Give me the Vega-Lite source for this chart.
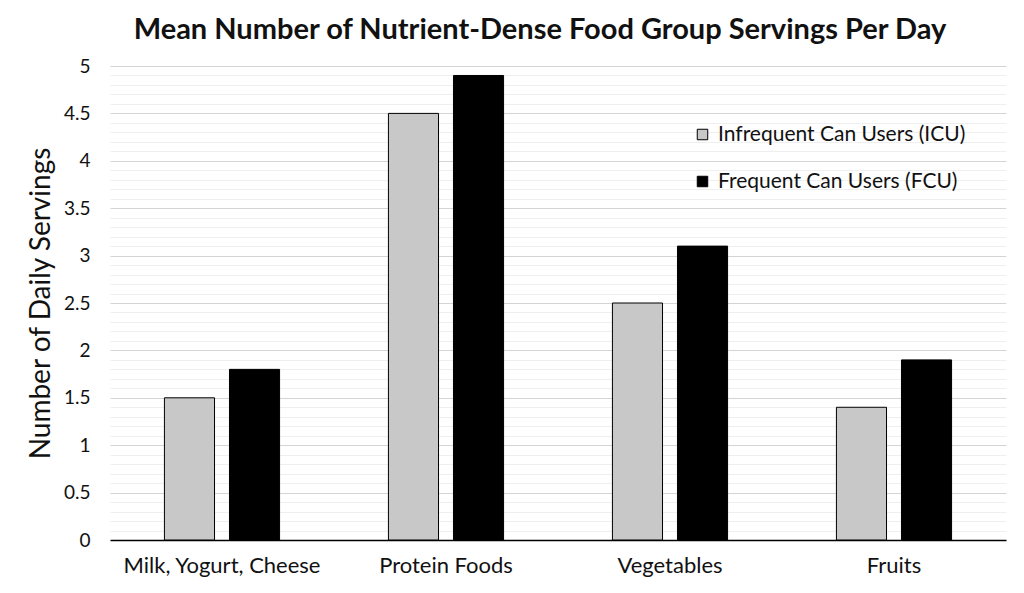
{
  "$schema": "https://vega.github.io/schema/vega-lite/v6.json",
  "width": 896,
  "height": 474,
  "autosize": {"type": "none"},
  "padding": {"left": 110, "top": 66, "right": 18, "bottom": 53},
  "background": "white",
  "title": {
    "text": "Mean Number of Nutrient-Dense Food Group Servings Per Day",
    "font": "Lato",
    "fontSize": 29,
    "fontWeight": "bold",
    "color": "#111111",
    "anchor": "middle",
    "offset": 12,
    "dx": -18
  },
  "data": {
    "values": [
      {"food": "Milk, Yogurt, Cheese", "group": "Infrequent Can Users (ICU)", "servings": 1.5},
      {"food": "Milk, Yogurt, Cheese", "group": "Frequent Can Users (FCU)", "servings": 1.8},
      {"food": "Protein Foods", "group": "Infrequent Can Users (ICU)", "servings": 4.5},
      {"food": "Protein Foods", "group": "Frequent Can Users (FCU)", "servings": 4.9},
      {"food": "Vegetables", "group": "Infrequent Can Users (ICU)", "servings": 2.5},
      {"food": "Vegetables", "group": "Frequent Can Users (FCU)", "servings": 3.1},
      {"food": "Fruits", "group": "Infrequent Can Users (ICU)", "servings": 1.4},
      {"food": "Fruits", "group": "Frequent Can Users (FCU)", "servings": 1.9}
    ]
  },
  "encoding": {
    "x": {
      "field": "food",
      "type": "nominal",
      "sort": null,
      "scale": {"paddingInner": 0.486, "paddingOuter": 0.243},
      "axis": {
        "title": null,
        "labelAngle": 0,
        "labelFont": "Lato",
        "labelFontSize": 22,
        "labelColor": "#111111",
        "labelLimit": 400,
        "labelPadding": 15,
        "ticks": false,
        "domainColor": "black",
        "domainWidth": 1.5,
        "grid": false
      }
    }
  },
  "layer": [
    {
      "mark": {"type": "bar", "opacity": 0},
      "encoding": {
        "y": {
          "field": "servings",
          "type": "quantitative",
          "stack": null,
          "scale": {"domain": [0, 5]},
          "axis": {
            "orient": "left",
            "title": null,
            "labels": false,
            "ticks": false,
            "domain": false,
            "grid": true,
            "gridColor": "#efefef",
            "gridWidth": 1,
            "values": [0.1, 0.2, 0.3, 0.4, 0.6, 0.7, 0.8, 0.9, 1.1, 1.2, 1.3, 1.4, 1.6, 1.7, 1.8, 1.9, 2.1, 2.2, 2.3, 2.4, 2.6, 2.7, 2.8, 2.9, 3.1, 3.2, 3.3, 3.4, 3.6, 3.7, 3.8, 3.9, 4.1, 4.2, 4.3, 4.4, 4.6, 4.7, 4.8, 4.9]
          }
        }
      }
    },
    {
      "mark": {"type": "bar", "stroke": "black", "strokeWidth": 1},
      "encoding": {
        "xOffset": {
          "field": "group",
          "type": "nominal",
          "sort": ["Infrequent Can Users (ICU)", "Frequent Can Users (FCU)"],
          "scale": {"paddingInner": 0.23, "paddingOuter": 0}
        },
        "y": {
          "field": "servings",
          "type": "quantitative",
          "scale": {"domain": [0, 5]},
          "axis": {
            "orient": "left",
            "title": "Number of Daily Servings",
            "titleFont": "Lato",
            "titleFontSize": 28,
            "titleFontWeight": "normal",
            "titleColor": "#111111",
            "titlePadding": 8,
            "values": [0, 0.5, 1, 1.5, 2, 2.5, 3, 3.5, 4, 4.5, 5],
            "format": "~g",
            "labelFont": "Lato",
            "labelFontSize": 19,
            "labelColor": "#111111",
            "labelPadding": 20,
            "ticks": false,
            "domain": false,
            "grid": true,
            "gridColor": "#d4d4d4",
            "gridWidth": 1
          }
        },
        "color": {
          "field": "group",
          "type": "nominal",
          "sort": ["Infrequent Can Users (ICU)", "Frequent Can Users (FCU)"],
          "scale": {
            "domain": ["Infrequent Can Users (ICU)", "Frequent Can Users (FCU)"],
            "range": ["#c8c8c8", "#000000"]
          },
          "legend": {
            "title": null,
            "orient": "none",
            "legendX": 582,
            "legendY": 58,
            "symbolType": "square",
            "symbolSize": 110,
            "symbolStrokeColor": "black",
            "symbolStrokeWidth": 1,
            "labelFont": "Lato",
            "labelFontSize": 21,
            "labelColor": "#111111",
            "labelLimit": 400,
            "labelOffset": 5,
            "rowPadding": 25
          }
        }
      }
    }
  ],
  "resolve": {"axis": {"y": "independent"}},
  "config": {
    "view": {"stroke": null}
  }
}
